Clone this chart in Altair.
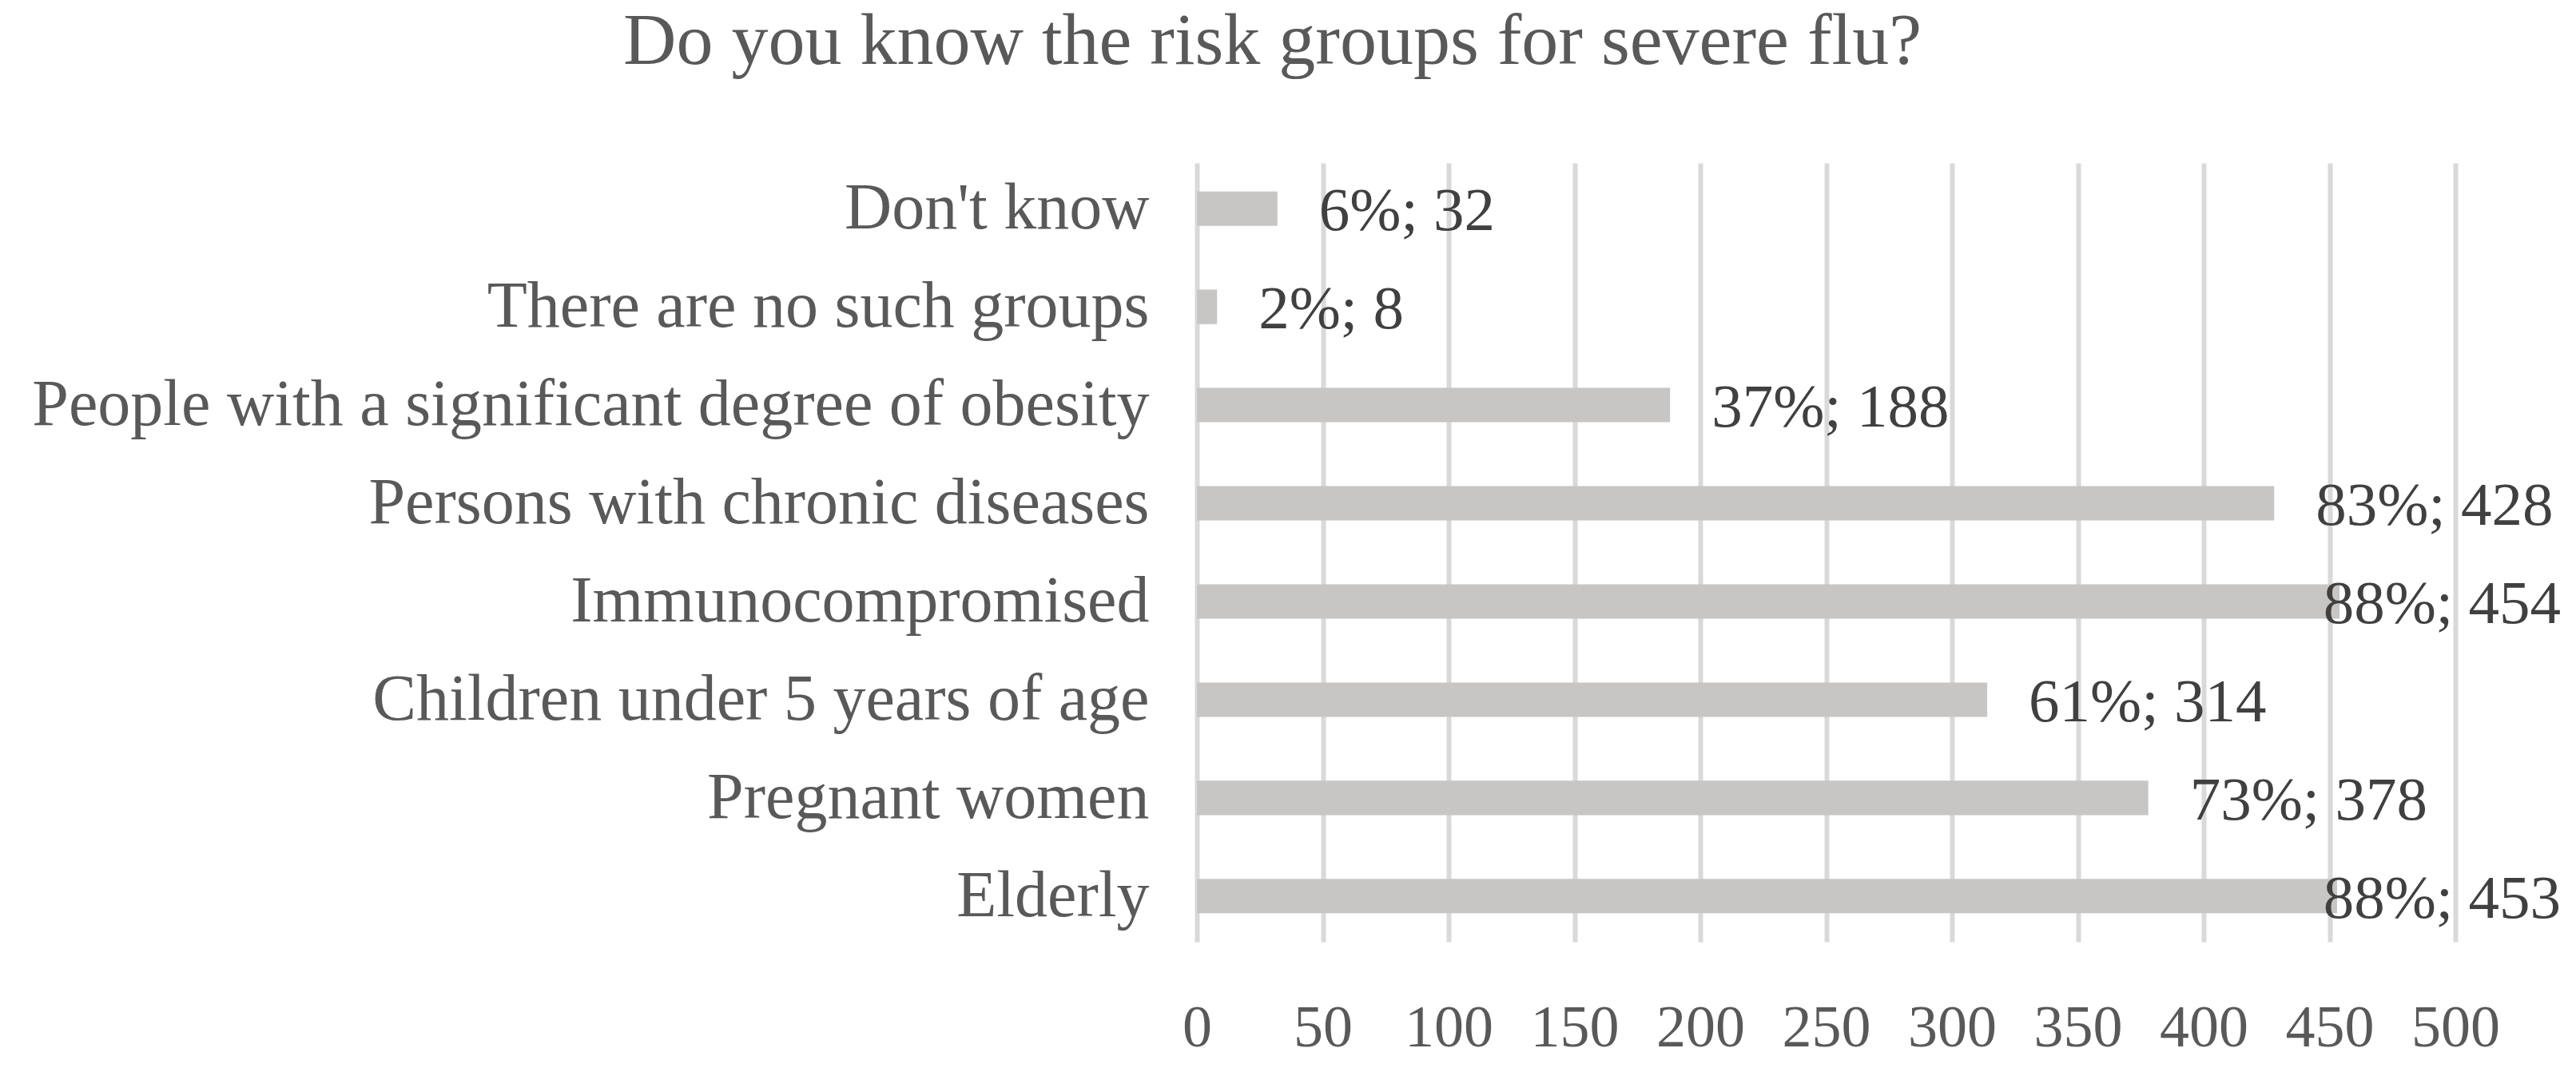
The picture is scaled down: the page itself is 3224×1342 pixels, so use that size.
import altair as alt
import pandas as pd

categories = [
    "Don't know",
    "There are no such groups",
    "People with a significant degree of obesity",
    "Persons with chronic diseases\u00a0",
    "Immunocompromised",
    "Children under 5 years of age",
    "Pregnant women",
    "Elderly",
]
counts = [32, 8, 188, 428, 454, 314, 378, 453]
percents = [6, 2, 37, 83, 88, 61, 73, 88]
x_ticks = [0, 50, 100, 150, 200, 250, 300, 350, 400, 450, 500]

df = pd.DataFrame({
    "category": categories,
    "count": counts,
    "pct": percents,
})
df["label"] = [f"{p}%; {c}" for p, c in zip(percents, counts)]

FONT = "Liberation Serif"

y = alt.Y(
    "category:N",
    sort=categories,
    title=None,
    scale=alt.Scale(paddingInner=0.65, paddingOuter=0.29),
    axis=alt.Axis(
        labelFont=FONT,
        labelFontSize=82,
        labelColor="#595959",
        labelPadding=60,
        ticks=False,
        domain=False,
        grid=False,
        labelLimit=2000,
    ),
)

bars = alt.Chart(df).mark_bar(color="#c7c6c4").encode(
    x=alt.X(
        "count:Q",
        title=None,
        scale=alt.Scale(domain=[0, 500], nice=False),
        axis=alt.Axis(
            values=x_ticks,
            labelFont=FONT,
            labelFontSize=74,
            labelColor="#595959",
            labelPadding=72,
            labelOverlap=False,
            labelFlush=False,
            labelBound=False,
            ticks=False,
            domain=False,
            grid=True,
            gridColor="#d9d9d9",
            gridWidth=6,
        ),
    ),
    y=y,
)

labels = alt.Chart(df).transform_calculate(
    lx="min(datum.count, 431)"
).mark_text(
    font=FONT,
    fontSize=77,
    color="#404040",
    align="left",
    baseline="middle",
    dx=52,
    dy=4,
).encode(
    x=alt.X("lx:Q"),
    y=alt.Y("category:N", sort=categories),
    text="label:N",
)

chart = alt.layer(bars, labels).properties(
    width=1575,
    height=975,
    autosize=alt.AutoSizeParams(type="none"),
    padding={"left": 1490, "top": 196, "right": 140, "bottom": 150},
    title=alt.TitleParams(
        text="Do you know the risk groups for severe flu?",
        font=FONT,
        fontSize=92,
        fontWeight="normal",
        color="#595959",
        anchor="start",
        frame="group",
        dx=-718,
        baseline="bottom",
        offset=13,
    ),
).configure_view(stroke=None)

chart.save("out.html", embed_options={"renderer": "svg", "actions": False})
